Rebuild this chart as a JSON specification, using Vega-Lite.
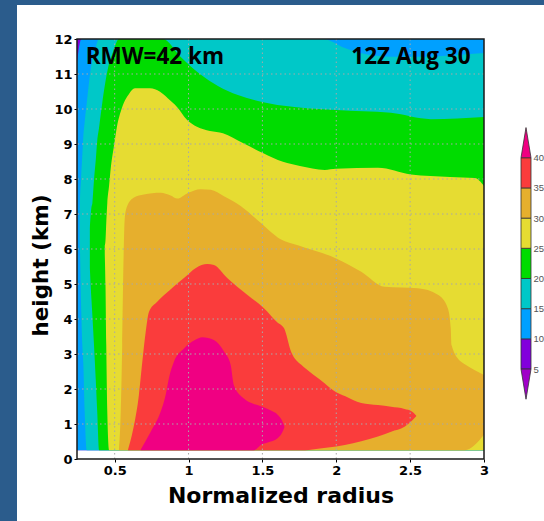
{
  "$schema": "https://vega.github.io/schema/vega-lite/v6.json",
  "padding": 0,
  "background": "white",
  "spacing": 0,
  "config": {
    "view": {"stroke": null},
    "axis": {
      "labelFont": "DejaVu Sans", "labelFontWeight": "bold", "labelFontSize": 13, "labelColor": "#000",
      "titleFont": "DejaVu Sans", "titleFontWeight": "bold", "titleColor": "#000",
      "tickColor": "#000", "tickSize": 3, "domain": false, "grid": false
    }
  },
  "datasets": {
    "contours": [
      {"band": 5, "r": 0.245, "top": 12, "bottom": 0.25},
      {"band": 5, "r": 3, "top": 12, "bottom": 0.25},

      {"band": 10, "r": 0.245, "top": 11.35, "bottom": 0.25},
      {"band": 10, "r": 0.275, "top": 12, "bottom": 0.25},
      {"band": 10, "r": 3, "top": 12, "bottom": 0.25},

      {"band": 15, "r": 0.263, "top": 6.9, "bottom": 6.2},
      {"band": 15, "r": 0.265, "top": 7.31, "bottom": 5.97},
      {"band": 15, "r": 0.272, "top": 7.97, "bottom": 4.54},
      {"band": 15, "r": 0.281, "top": 8.69, "bottom": 3.26},
      {"band": 15, "r": 0.288, "top": 9.23, "bottom": 2.69},
      {"band": 15, "r": 0.297, "top": 9.63, "bottom": 1.34},
      {"band": 15, "r": 0.311, "top": 10.17, "bottom": 0.25},
      {"band": 15, "r": 0.338, "top": 11.14, "bottom": 0.25},
      {"band": 15, "r": 0.367, "top": 11.69, "bottom": 0.25},
      {"band": 15, "r": 0.394, "top": 12, "bottom": 0.25},
      {"band": 15, "r": 1.909, "top": 12, "bottom": 0.25},
      {"band": 15, "r": 2.058, "top": 11.74, "bottom": 0.25},
      {"band": 15, "r": 2.227, "top": 11.54, "bottom": 0.25},
      {"band": 15, "r": 2.397, "top": 11.49, "bottom": 0.25},
      {"band": 15, "r": 2.566, "top": 11.49, "bottom": 0.25},
      {"band": 15, "r": 2.769, "top": 11.53, "bottom": 0.25},
      {"band": 15, "r": 3, "top": 11.6, "bottom": 0.25},

      {"band": 20, "r": 0.332, "top": 6.6, "bottom": 5.46},
      {"band": 20, "r": 0.343, "top": 7.2, "bottom": 4.54},
      {"band": 20, "r": 0.349, "top": 7.31, "bottom": 4.11},
      {"band": 20, "r": 0.36, "top": 7.97, "bottom": 3.26},
      {"band": 20, "r": 0.372, "top": 8.54, "bottom": 2.26},
      {"band": 20, "r": 0.382, "top": 9.09, "bottom": 1.34},
      {"band": 20, "r": 0.394, "top": 9.46, "bottom": 0.25},
      {"band": 20, "r": 0.416, "top": 10.17, "bottom": 0.25},
      {"band": 20, "r": 0.455, "top": 11.17, "bottom": 0.25},
      {"band": 20, "r": 0.489, "top": 11.63, "bottom": 0.25},
      {"band": 20, "r": 0.529, "top": 12, "bottom": 0.25},
      {"band": 20, "r": 0.827, "top": 12, "bottom": 0.25},
      {"band": 20, "r": 0.942, "top": 11.51, "bottom": 0.25},
      {"band": 20, "r": 1.077, "top": 11.0, "bottom": 0.25},
      {"band": 20, "r": 1.199, "top": 10.66, "bottom": 0.25},
      {"band": 20, "r": 1.334, "top": 10.4, "bottom": 0.25},
      {"band": 20, "r": 1.47, "top": 10.23, "bottom": 0.25},
      {"band": 20, "r": 1.646, "top": 10.09, "bottom": 0.25},
      {"band": 20, "r": 1.997, "top": 9.97, "bottom": 0.25},
      {"band": 20, "r": 2.37, "top": 9.89, "bottom": 0.25},
      {"band": 20, "r": 2.64, "top": 9.71, "bottom": 0.25},
      {"band": 20, "r": 3, "top": 9.77, "bottom": 0.25},

      {"band": 25, "r": 0.433, "top": 6.1, "bottom": 5.85},
      {"band": 25, "r": 0.438, "top": 6.26, "bottom": 4.94},
      {"band": 25, "r": 0.443, "top": 6.74, "bottom": 3.26},
      {"band": 25, "r": 0.45, "top": 7.31, "bottom": 1.34},
      {"band": 25, "r": 0.462, "top": 7.8, "bottom": 0.25},
      {"band": 25, "r": 0.473, "top": 8.29, "bottom": 0.25},
      {"band": 25, "r": 0.495, "top": 8.94, "bottom": 0.25},
      {"band": 25, "r": 0.516, "top": 9.51, "bottom": 0.25},
      {"band": 25, "r": 0.549, "top": 10.03, "bottom": 0.25},
      {"band": 25, "r": 0.597, "top": 10.43, "bottom": 0.25},
      {"band": 25, "r": 0.637, "top": 10.59, "bottom": 0.25},
      {"band": 25, "r": 0.739, "top": 10.59, "bottom": 0.25},
      {"band": 25, "r": 0.807, "top": 10.49, "bottom": 0.25},
      {"band": 25, "r": 0.861, "top": 10.3, "bottom": 0.25},
      {"band": 25, "r": 0.922, "top": 10.06, "bottom": 0.25},
      {"band": 25, "r": 0.989, "top": 9.69, "bottom": 0.25},
      {"band": 25, "r": 1.057, "top": 9.49, "bottom": 0.25},
      {"band": 25, "r": 1.145, "top": 9.37, "bottom": 0.25},
      {"band": 25, "r": 1.233, "top": 9.31, "bottom": 0.25},
      {"band": 25, "r": 1.368, "top": 9.03, "bottom": 0.25},
      {"band": 25, "r": 1.503, "top": 8.74, "bottom": 0.25},
      {"band": 25, "r": 1.639, "top": 8.49, "bottom": 0.25},
      {"band": 25, "r": 1.754, "top": 8.37, "bottom": 0.25},
      {"band": 25, "r": 1.923, "top": 8.26, "bottom": 0.25},
      {"band": 25, "r": 1.997, "top": 8.29, "bottom": 0.25},
      {"band": 25, "r": 2.282, "top": 8.32, "bottom": 0.25},
      {"band": 25, "r": 2.505, "top": 8.13, "bottom": 0.25},
      {"band": 25, "r": 2.769, "top": 8.06, "bottom": 0.25},
      {"band": 25, "r": 2.938, "top": 8.03, "bottom": 0.25},
      {"band": 25, "r": 3, "top": 7.8, "bottom": 0.25},

      {"band": 30, "r": 0.529, "top": 0.26, "bottom": 0.25},
      {"band": 30, "r": 0.541, "top": 1.34, "bottom": 0.25},
      {"band": 30, "r": 0.551, "top": 3.26, "bottom": 0.25},
      {"band": 30, "r": 0.56, "top": 5.69, "bottom": 0.25},
      {"band": 30, "r": 0.568, "top": 6.86, "bottom": 0.25},
      {"band": 30, "r": 0.585, "top": 7.23, "bottom": 0.25},
      {"band": 30, "r": 0.631, "top": 7.47, "bottom": 0.25},
      {"band": 30, "r": 0.698, "top": 7.56, "bottom": 0.25},
      {"band": 30, "r": 0.811, "top": 7.61, "bottom": 0.25},
      {"band": 30, "r": 0.879, "top": 7.53, "bottom": 0.25},
      {"band": 30, "r": 0.924, "top": 7.44, "bottom": 0.25},
      {"band": 30, "r": 0.996, "top": 7.6, "bottom": 0.25},
      {"band": 30, "r": 1.082, "top": 7.71, "bottom": 0.25},
      {"band": 30, "r": 1.15, "top": 7.69, "bottom": 0.25},
      {"band": 30, "r": 1.24, "top": 7.51, "bottom": 0.25},
      {"band": 30, "r": 1.353, "top": 7.23, "bottom": 0.25},
      {"band": 30, "r": 1.488, "top": 6.75, "bottom": 0.25},
      {"band": 30, "r": 1.623, "top": 6.28, "bottom": 0.25},
      {"band": 30, "r": 1.74, "top": 6.11, "bottom": 0.25},
      {"band": 30, "r": 1.999, "top": 5.73, "bottom": 0.25},
      {"band": 30, "r": 2.169, "top": 5.35, "bottom": 0.25},
      {"band": 30, "r": 2.327, "top": 4.92, "bottom": 0.25},
      {"band": 30, "r": 2.552, "top": 4.88, "bottom": 0.25},
      {"band": 30, "r": 2.688, "top": 4.69, "bottom": 0.25},
      {"band": 30, "r": 2.755, "top": 4.31, "bottom": 0.25},
      {"band": 30, "r": 2.775, "top": 3.73, "bottom": 0.25},
      {"band": 30, "r": 2.78, "top": 3.26, "bottom": 0.25},
      {"band": 30, "r": 2.845, "top": 2.78, "bottom": 0.25},
      {"band": 30, "r": 2.87, "top": 2.71, "bottom": 0.25},
      {"band": 30, "r": 3, "top": 2.4, "bottom": 0.69},

      {"band": 35, "r": 0.59, "top": 0.26, "bottom": 0.25},
      {"band": 35, "r": 0.631, "top": 0.97, "bottom": 0.25},
      {"band": 35, "r": 0.664, "top": 1.83, "bottom": 0.25},
      {"band": 35, "r": 0.687, "top": 2.77, "bottom": 0.25},
      {"band": 35, "r": 0.71, "top": 3.63, "bottom": 0.25},
      {"band": 35, "r": 0.732, "top": 4.2, "bottom": 0.25},
      {"band": 35, "r": 0.788, "top": 4.49, "bottom": 0.25},
      {"band": 35, "r": 0.874, "top": 4.83, "bottom": 0.25},
      {"band": 35, "r": 0.969, "top": 5.17, "bottom": 0.25},
      {"band": 35, "r": 1.05, "top": 5.46, "bottom": 0.25},
      {"band": 35, "r": 1.127, "top": 5.57, "bottom": 0.25},
      {"band": 35, "r": 1.172, "top": 5.54, "bottom": 0.25},
      {"band": 35, "r": 1.262, "top": 5.17, "bottom": 0.25},
      {"band": 35, "r": 1.397, "top": 4.69, "bottom": 0.25},
      {"band": 35, "r": 1.51, "top": 4.31, "bottom": 0.25},
      {"band": 35, "r": 1.6, "top": 3.91, "bottom": 0.25},
      {"band": 35, "r": 1.646, "top": 3.74, "bottom": 0.25},
      {"band": 35, "r": 1.695, "top": 3.06, "bottom": 0.25},
      {"band": 35, "r": 1.763, "top": 2.69, "bottom": 0.25},
      {"band": 35, "r": 1.788, "top": 2.6, "bottom": 0.25},
      {"band": 35, "r": 1.889, "top": 2.27, "bottom": 0.3},
      {"band": 35, "r": 1.999, "top": 1.91, "bottom": 0.36},
      {"band": 35, "r": 2.058, "top": 1.8, "bottom": 0.4},
      {"band": 35, "r": 2.169, "top": 1.6, "bottom": 0.51},
      {"band": 35, "r": 2.282, "top": 1.54, "bottom": 0.64},
      {"band": 35, "r": 2.371, "top": 1.49, "bottom": 0.78},
      {"band": 35, "r": 2.462, "top": 1.43, "bottom": 0.92},
      {"band": 35, "r": 2.512, "top": 1.36, "bottom": 1.09},
      {"band": 35, "r": 2.541, "top": 1.24, "bottom": 1.22},

      {"band": 40, "r": 0.675, "top": 0.26, "bottom": 0.25},
      {"band": 40, "r": 0.744, "top": 0.78, "bottom": 0.25},
      {"band": 40, "r": 0.811, "top": 1.35, "bottom": 0.25},
      {"band": 40, "r": 0.845, "top": 1.83, "bottom": 0.25},
      {"band": 40, "r": 0.867, "top": 2.31, "bottom": 0.25},
      {"band": 40, "r": 0.901, "top": 2.78, "bottom": 0.25},
      {"band": 40, "r": 0.969, "top": 3.16, "bottom": 0.25},
      {"band": 40, "r": 1.043, "top": 3.4, "bottom": 0.25},
      {"band": 40, "r": 1.093, "top": 3.48, "bottom": 0.25},
      {"band": 40, "r": 1.172, "top": 3.4, "bottom": 0.25},
      {"band": 40, "r": 1.24, "top": 3.07, "bottom": 0.25},
      {"band": 40, "r": 1.285, "top": 2.69, "bottom": 0.25},
      {"band": 40, "r": 1.307, "top": 2.11, "bottom": 0.25},
      {"band": 40, "r": 1.375, "top": 1.73, "bottom": 0.25},
      {"band": 40, "r": 1.443, "top": 1.57, "bottom": 0.25},
      {"band": 40, "r": 1.49, "top": 1.51, "bottom": 0.4},
      {"band": 40, "r": 1.551, "top": 1.4, "bottom": 0.49},
      {"band": 40, "r": 1.605, "top": 1.26, "bottom": 0.6},
      {"band": 40, "r": 1.632, "top": 1.11, "bottom": 0.74},
      {"band": 40, "r": 1.649, "top": 0.93, "bottom": 0.91}
    ],
    "gridR": [{"r": 0.5}, {"r": 1}, {"r": 1.5}, {"r": 2}, {"r": 2.5}],
    "gridH": [{"h": 1}, {"h": 2}, {"h": 3}, {"h": 4}, {"h": 5}, {"h": 6}, {"h": 7}, {"h": 8}, {"h": 9}, {"h": 10}, {"h": 11}],
    "boxes": [
      {"band": "5", "lo": 5, "hi": 10},
      {"band": "10", "lo": 10, "hi": 15},
      {"band": "15", "lo": 15, "hi": 20},
      {"band": "20", "lo": 20, "hi": 25},
      {"band": "25", "lo": 25, "hi": 30},
      {"band": "30", "lo": 30, "hi": 35},
      {"band": "35", "lo": 35, "hi": 40}
    ],
    "ends": [
      {"band": "<5", "v": 0, "left": 0.5, "right": 0.5},
      {"band": "<5", "v": 5, "left": 0, "right": 1},
      {"band": ">40", "v": 40, "left": 0, "right": 1},
      {"band": ">40", "v": 45, "left": 0.5, "right": 0.5}
    ]
  },
  "vconcat": [
    {
      "width": 544, "height": 5,
      "view": {"fill": "#2b5c8c", "stroke": null},
      "data": {"values": [{}]},
      "mark": {"type": "rect", "color": "#2b5c8c"},
      "encoding": {}
    },
    {
      "spacing": 13,
      "hconcat": [
        {
          "width": 17, "height": 516,
          "view": {"fill": "#2b5c8c", "stroke": null},
          "data": {"values": [{}]},
          "mark": {"type": "rect", "color": "#2b5c8c"},
          "encoding": {}
        },
        {
          "spacing": 0,
          "vconcat": [
            {
              "width": 1, "height": 28,
              "data": {"values": [{}]},
              "mark": {"type": "rect", "opacity": 0},
              "encoding": {}
            },
            {
              "spacing": 30,
              "hconcat": [
                {
                  "width": 407, "height": 420,
                  "layer": [
                    {
                      "data": {"name": "contours"},
                      "transform": [{"filter": "datum.band == 5"}],
                      "mark": {"type": "area", "orient": "vertical", "interpolate": "monotone", "color": "#8200dc", "opacity": 1},
                      "encoding": {
                        "x": {"field": "r", "type": "quantitative",
                              "scale": {"domain": [0.245, 3], "nice": false, "zero": false},
                              "axis": {"values": [0.5, 1, 1.5, 2, 2.5, 3], "format": "~g", "title": "Normalized radius",
                                       "titleFontSize": 22, "titlePadding": 8, "labelPadding": 2, "labelFlush": false,
                                       "labelOverlap": false, "grid": false}},
                        "y": {"field": "top", "type": "quantitative",
                              "scale": {"domain": [0, 12], "nice": false, "zero": false},
                              "axis": {"values": [0, 1, 2, 3, 4, 5, 6, 7, 8, 9, 10, 11, 12], "tickCount": 13, "format": "d",
                                       "title": "height (km)", "titleFontSize": 21.5, "titlePadding": 1, "titleY": 226,
                                       "labelPadding": 2, "labelFlush": false, "labelOverlap": false, "grid": false}},
                        "y2": {"field": "bottom"}
                      }
                    },
                    {
                      "data": {"name": "contours"},
                      "transform": [{"filter": "datum.band == 10"}],
                      "mark": {"type": "area", "orient": "vertical", "interpolate": "monotone", "color": "#00a0ff", "opacity": 1},
                      "encoding": {"x": {"field": "r", "type": "quantitative"}, "y": {"field": "top", "type": "quantitative"}, "y2": {"field": "bottom"}}
                    },
                    {
                      "data": {"name": "contours"},
                      "transform": [{"filter": "datum.band == 15"}],
                      "mark": {"type": "area", "orient": "vertical", "interpolate": "monotone", "color": "#00c8c8", "opacity": 1},
                      "encoding": {"x": {"field": "r", "type": "quantitative"}, "y": {"field": "top", "type": "quantitative"}, "y2": {"field": "bottom"}}
                    },
                    {
                      "data": {"name": "contours"},
                      "transform": [{"filter": "datum.band == 20"}],
                      "mark": {"type": "area", "orient": "vertical", "interpolate": "monotone", "color": "#00dc00", "opacity": 1},
                      "encoding": {"x": {"field": "r", "type": "quantitative"}, "y": {"field": "top", "type": "quantitative"}, "y2": {"field": "bottom"}}
                    },
                    {
                      "data": {"name": "contours"},
                      "transform": [{"filter": "datum.band == 25"}],
                      "mark": {"type": "area", "orient": "vertical", "interpolate": "monotone", "color": "#e6dc32", "opacity": 1},
                      "encoding": {"x": {"field": "r", "type": "quantitative"}, "y": {"field": "top", "type": "quantitative"}, "y2": {"field": "bottom"}}
                    },
                    {
                      "data": {"name": "contours"},
                      "transform": [{"filter": "datum.band == 30"}],
                      "mark": {"type": "area", "orient": "vertical", "interpolate": "monotone", "color": "#e6af2d", "opacity": 1},
                      "encoding": {"x": {"field": "r", "type": "quantitative"}, "y": {"field": "top", "type": "quantitative"}, "y2": {"field": "bottom"}}
                    },
                    {
                      "data": {"name": "contours"},
                      "transform": [{"filter": "datum.band == 35"}],
                      "mark": {"type": "area", "orient": "vertical", "interpolate": "monotone", "color": "#fa3c3c", "opacity": 1},
                      "encoding": {"x": {"field": "r", "type": "quantitative"}, "y": {"field": "top", "type": "quantitative"}, "y2": {"field": "bottom"}}
                    },
                    {
                      "data": {"name": "contours"},
                      "transform": [{"filter": "datum.band == 40"}],
                      "mark": {"type": "area", "orient": "vertical", "interpolate": "monotone", "color": "#f00082", "opacity": 1},
                      "encoding": {"x": {"field": "r", "type": "quantitative"}, "y": {"field": "top", "type": "quantitative"}, "y2": {"field": "bottom"}}
                    },
                    {
                      "data": {"name": "gridR"},
                      "mark": {"type": "rule", "color": "#a8a8a8", "strokeWidth": 1, "strokeDash": [1.5, 3]},
                      "encoding": {"x": {"field": "r", "type": "quantitative"}}
                    },
                    {
                      "data": {"name": "gridH"},
                      "mark": {"type": "rule", "color": "#a8a8a8", "strokeWidth": 1, "strokeDash": [1.5, 3]},
                      "encoding": {"y": {"field": "h", "type": "quantitative"}}
                    },
                    {
                      "data": {"values": [{}]},
                      "mark": {"type": "text", "text": "RMW=42 km", "font": "Open Sans", "fontWeight": "bold", "fontSize": 22.5,
                               "align": "left", "baseline": "alphabetic", "color": "#000"},
                      "encoding": {"x": {"datum": 0.304}, "y": {"datum": 11.28}}
                    },
                    {
                      "data": {"values": [{}]},
                      "mark": {"type": "text", "text": "12Z Aug 30", "font": "Open Sans", "fontWeight": "bold", "fontSize": 22.5,
                               "align": "right", "baseline": "alphabetic", "color": "#000"},
                      "encoding": {"x": {"datum": 2.909}, "y": {"datum": 11.28}}
                    },
                    {
                      "data": {"values": [{}]},
                      "mark": {"type": "rect", "fillOpacity": 0, "stroke": "#1a1a1a", "strokeWidth": 1.5},
                      "encoding": {"x": {"datum": 0.245}, "x2": {"datum": 3}, "y": {"datum": 0}, "y2": {"datum": 12}}
                    }
                  ]
                },
                {
                  "width": 10, "height": 420,
                  "layer": [
                    {
                      "data": {"name": "boxes"},
                      "mark": {"type": "rect", "stroke": "#333", "strokeWidth": 0.8, "opacity": 1},
                      "encoding": {
                        "x": {"datum": 0, "type": "quantitative", "scale": {"domain": [0, 1], "nice": false, "zero": false}, "axis": null},
                        "x2": {"datum": 1},
                        "y": {"field": "lo", "type": "quantitative",
                              "scale": {"domain": [-9.9, 59.67], "nice": false, "zero": false},
                              "axis": {"orient": "right", "values": [5, 10, 15, 20, 25, 30, 35, 40], "title": null, "grid": false,
                                       "ticks": false, "labelPadding": 2, "labelFont": "Liberation Sans", "labelFontWeight": "normal",
                                       "labelFontSize": 9.5, "labelColor": "#555", "labelFlush": false, "labelOverlap": false}},
                        "y2": {"field": "hi"},
                        "color": {"field": "band", "type": "nominal",
                                  "scale": {"domain": ["<5", "5", "10", "15", "20", "25", "30", "35", ">40"],
                                            "range": ["#a000c8", "#8200dc", "#00a0ff", "#00c8c8", "#00dc00", "#e6dc32", "#e6af2d", "#fa3c3c", "#f00082"]},
                                  "legend": null}
                      }
                    },
                    {
                      "data": {"name": "ends"},
                      "mark": {"type": "area", "orient": "horizontal", "stroke": "#333", "strokeWidth": 0.8, "opacity": 1},
                      "encoding": {
                        "y": {"field": "v", "type": "quantitative"},
                        "x": {"field": "left", "type": "quantitative"},
                        "x2": {"field": "right"},
                        "color": {"field": "band", "type": "nominal", "legend": null}
                      }
                    }
                  ]
                }
              ]
            }
          ]
        }
      ]
    }
  ]
}
